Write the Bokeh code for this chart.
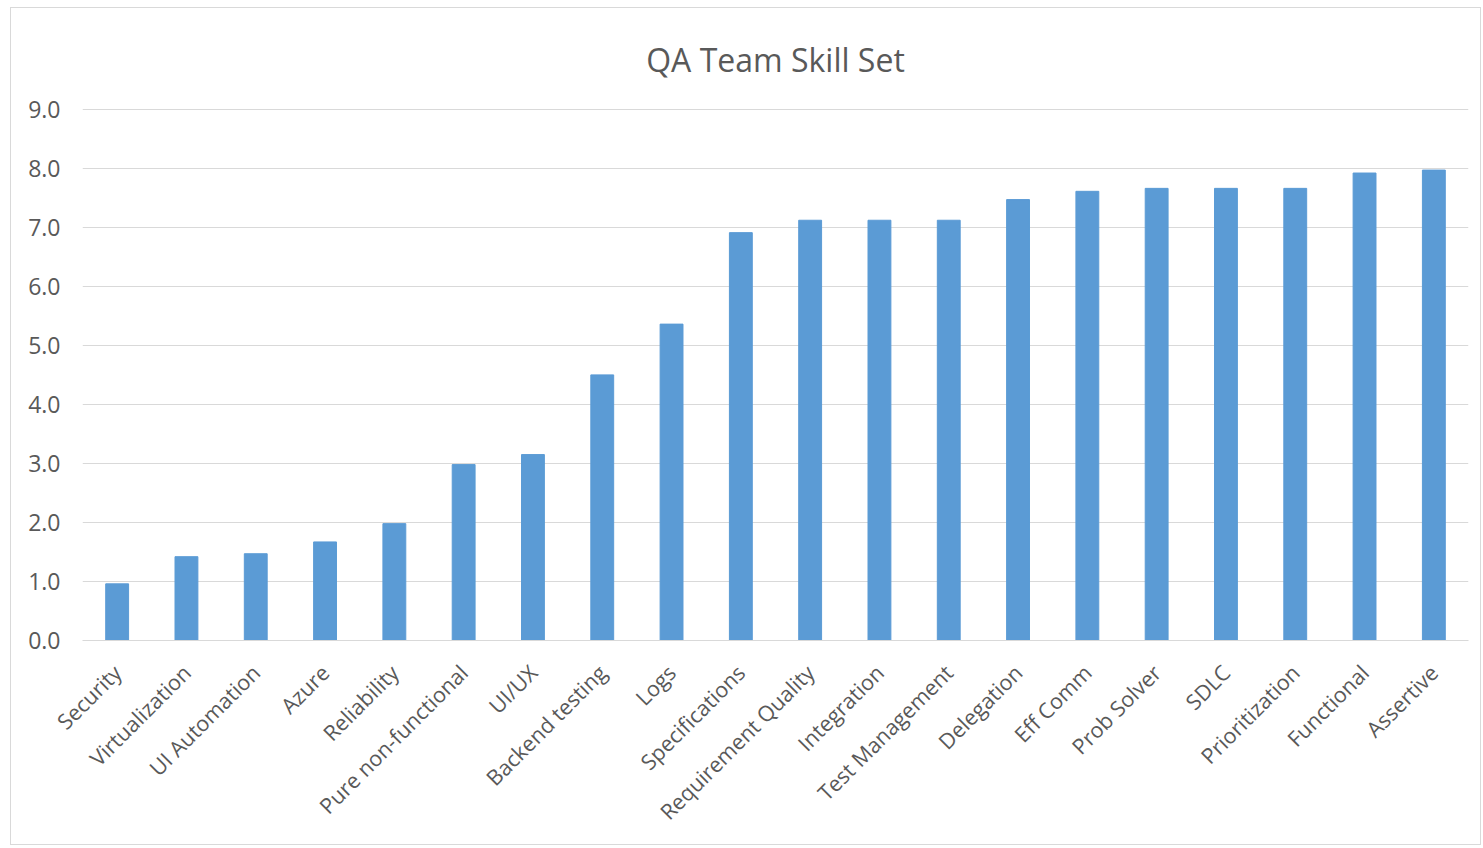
from bokeh.plotting import figure
from bokeh.embed import file_html
from bokeh.resources import INLINE
from bokeh.models import NumeralTickFormatter, FixedTicker, Range1d
import math

skills = ["Security", "Virtualization", "UI Automation", "Azure", "Reliability",
          "Pure non-functional", "UI/UX", "Backend testing", "Logs", "Specifications",
          "Requirement Quality", "Integration", "Test Management", "Delegation",
          "Eff Comm", "Prob Solver", "SDLC", "Prioritization", "Functional", "Assertive"]
scores = [0.96, 1.42, 1.47, 1.67, 1.98, 2.98, 3.15, 4.50, 5.36, 6.91,
          7.12, 7.12, 7.12, 7.47, 7.61, 7.66, 7.66, 7.66, 7.92, 7.97]
y_ticks = [0, 1, 2, 3, 4, 5, 6, 7, 8, 9]
chart_title = "QA Team Skill Set"

FONT = "Open Sans"
GRAY = "#595959"

p = figure(x_range=skills, y_range=Range1d(0, 9.03), width=1471, height=838,
           output_backend="svg", toolbar_location=None, title=chart_title)
p.min_border_left = 71
p.min_border_right = 14
p.min_border_top = 99
p.min_border_bottom = 206

p.vbar(x=skills, top=scores, width=0.33, color="#5B9BD5")

p.title.text_font = FONT
p.title.text_font_size = "32px"
p.title.text_font_style = "normal"
p.title.text_color = GRAY
p.title.align = "center"
p.title.standoff = 53
p.title.offset = -33

p.outline_line_color = None
p.xgrid.grid_line_color = None
p.ygrid.grid_line_color = "#D9D9D9"
p.ygrid.grid_line_width = 1

p.yaxis.ticker = FixedTicker(ticks=y_ticks)
p.yaxis.formatter = NumeralTickFormatter(format="0.0")
p.yaxis.axis_line_color = None
p.yaxis.major_tick_line_color = None
p.yaxis.minor_tick_line_color = None
p.yaxis.major_label_text_font = FONT
p.yaxis.major_label_text_font_size = "23px"
p.yaxis.major_label_text_color = GRAY
p.yaxis.major_label_standoff = 16

p.xaxis.axis_line_color = "#D9D9D9"
p.xaxis.major_tick_line_color = None
p.xaxis.minor_tick_line_color = None
p.xaxis.major_label_orientation = math.pi / 4
p.xaxis.major_label_text_font = FONT
p.xaxis.major_label_text_font_size = "21.5px"
p.xaxis.major_label_text_color = GRAY
p.xaxis.major_label_standoff = 22

p.styles = {"border": "1px solid #D9D9D9", "margin-left": "10px", "margin-top": "7px"}

open("out.html", "w").write(file_html(p, INLINE))
